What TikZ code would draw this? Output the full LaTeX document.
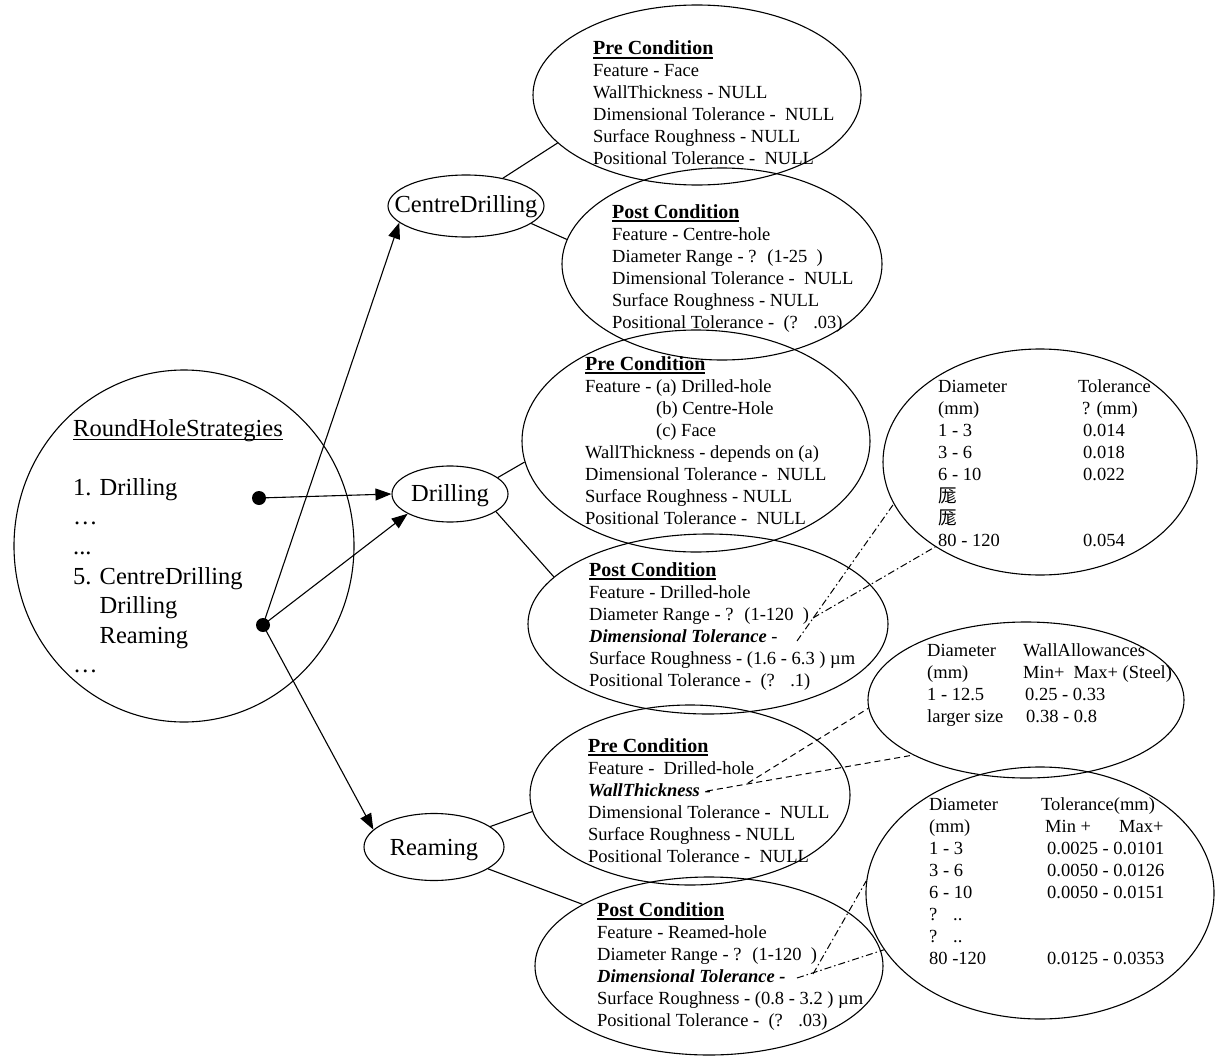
\documentclass[tikz,border=0pt]{standalone}
\usepackage{fontspec}
\setmainfont{Liberation Serif}
\newfontfamily\cjk{Noto Sans CJK SC}
\usetikzlibrary{shapes.geometric,arrows.meta}
\newcommand{\rowsblk}[1]{\begin{tabular}[t]{@{}l@{}}#1\end{tabular}}
\newcommand{\hdr}[1]{{\fontsize{20}{22}\selectfont\bfseries\setbox0\hbox{#1}\rlap{\rule[-4pt]{\wd0}{1.6pt}}\box0}}
\newcommand{\ulroot}[1]{{\setbox0\hbox{#1}\rlap{\rule[-3.8pt]{\wd0}{1.3pt}}\box0}}
\newcommand{\bi}[1]{\textbf{\textit{#1}}}
\begin{document}
\begin{tikzpicture}[x=1pt,y=-1pt,
  ell/.style={draw, ellipse, line width=1.1pt, inner sep=0pt},
  txt/.style={inner sep=0pt, anchor=base west, font=\fontsize{18.5}{22}\selectfont},
  big/.style={inner sep=0pt, anchor=base, font=\fontsize{24.5}{29.6}\selectfont},
  con/.style={line width=1.1pt},
  arr/.style={line width=1.1pt, -{Triangle[length=16pt,width=12pt]}},
  dsh/.style={line width=1pt, dash pattern=on 6pt off 4pt},
  dd/.style={line width=1pt, dash pattern=on 7pt off 3pt on 1.5pt off 3pt},
  dotn/.style={circle, fill, inner sep=0pt, minimum size=14pt}]
\useasboundingbox (0,0) rectangle (1216,1057);

% ellipses
\node[ell, minimum width=340pt, minimum height=352pt] (root) at (184,546) {};
\node[ell, minimum width=328pt, minimum height=180pt] (A) at (697,95) {};
\node[ell, minimum width=320pt, minimum height=192pt] (B) at (722,264) {};
\node[ell, minimum width=156pt, minimum height=62pt] (cd) at (466,206) {};
\node[ell, minimum width=348pt, minimum height=222pt] (C) at (696,441) {};
\node[ell, minimum width=116pt, minimum height=56pt] (drill) at (450,494) {};
\node[ell, minimum width=360pt, minimum height=180pt] (D) at (708,624) {};
\node[ell, minimum width=314pt, minimum height=226pt] (G) at (1040,462) {};
\node[ell, minimum width=316pt, minimum height=156pt] (H) at (1026,700) {};
\node[ell, minimum width=320pt, minimum height=180pt] (E) at (690,795) {};
\node[ell, minimum width=140pt, minimum height=67pt] (ream) at (434,847) {};
\node[ell, minimum width=348pt, minimum height=178pt] (F) at (709,966) {};
\node[ell, minimum width=348pt, minimum height=252pt] (I) at (1040,893) {};

% labels of the small ellipses
\node[big] (tcd) at (466,212) {CentreDrilling};
\node[big] (tdrill) at (450,501) {Drilling};
\node[big] (tream) at (434,855) {Reaming};

% root text
\node[big, anchor=base west] (troot) at (73,436) {\rowsblk{\ulroot{RoundHoleStrategies}\\ \\
1. Drilling\\ …\\ ...\\ 5. CentreDrilling\\ \phantom{5. }Drilling\\ \phantom{5. }Reaming\\ …}};

% condition texts
\node[txt] (tA) at (593,55) {\rowsblk{\hdr{Pre Condition}\\
Feature - Face\\
WallThickness - NULL\\
Dimensional Tolerance -~ NULL\\
Surface Roughness - NULL\\
Positional Tolerance -~ NULL}};

\node[txt] (tB) at (612,218) {\rowsblk{\hdr{Post Condition}\\
Feature - Centre-hole\\
Diameter Range - ?~ (1-25~ )\\
Dimensional Tolerance -~ NULL\\
Surface Roughness - NULL\\
Positional Tolerance -~ (?~~ .03)}};

\node[txt] (tC) at (585,370) {\rowsblk{\hdr{Pre Condition}\\
Feature - (a) Drilled-hole\\
\phantom{Feature - }(b) Centre-Hole\\
\phantom{Feature - }(c) Face\\
WallThickness - depends on (a)\\
Dimensional Tolerance -~ NULL\\
Surface Roughness - NULL\\
Positional Tolerance -~ NULL}};

\node[txt] (tD) at (589,576) {\rowsblk{\hdr{Post Condition}\\
Feature - Drilled-hole\\
Diameter Range - ?~ (1-120~ )\\
\bi{Dimensional Tolerance} -\\
Surface Roughness - (1.6 - 6.3 ) µm\\
Positional Tolerance -~ (?~~ .1)}};

\node[txt] (tE) at (588,752) {\rowsblk{\hdr{Pre Condition}\\
Feature -~ Drilled-hole\\
\bi{WallThickness} -\\
Dimensional Tolerance -~ NULL\\
Surface Roughness - NULL\\
Positional Tolerance -~ NULL}};

\node[txt] (tF) at (597,916) {\rowsblk{\hdr{Post Condition}\\
Feature - Reamed-hole\\
Diameter Range - ?~ (1-120~ )\\
\bi{Dimensional Tolerance -}\\
Surface Roughness - (0.8 - 3.2 ) µm\\
Positional Tolerance -~ (?~~ .03)}};

% tables
\node[txt] (g1) at (938,392) {\rowsblk{Diameter\\(mm)\\1 - 3\\3 - 6\\6 - 10\\{\cjk 厖}\\{\cjk 厖}\\80 - 120}};
\node[txt] (g2) at (1078,392) {\rowsblk{Tolerance\\\hspace{4pt}? (mm)\\\hspace{5pt}0.014\\\hspace{5pt}0.018\\\hspace{5pt}0.022\\ \\ \\\hspace{5pt}0.054}};

\node[txt] (h1) at (927,656) {\rowsblk{Diameter\\(mm)\\1 - 12.5\\larger size}};
\node[txt] (h2) at (1023,656) {\rowsblk{WallAllowances\\Min+~ Max+ (Steel)\\\hspace{2pt}0.25 - 0.33\\\hspace{3pt}0.38 - 0.8}};

\node[txt] (i1) at (929,810) {\rowsblk{Diameter\\(mm)\\1 - 3\\3 - 6\\6 - 10\\\makebox[24pt][l]{?}..\\\makebox[24pt][l]{?}..\\80 -120}};
\node[txt] (i2) at (1041,810) {\rowsblk{Tolerance(mm)\\\hspace{4pt}\makebox[74pt][l]{Min +}Max+\\\hspace{6pt}0.0025 - 0.0101\\\hspace{6pt}0.0050 - 0.0126\\\hspace{6pt}0.0050 - 0.0151\\ \\ \\\hspace{6pt}0.0125 - 0.0353}};

% connectors between operation and conditions
\draw[con] (cd.37.7) -- (A.199.5);
\draw[con] (cd.-15) -- (B.171.9);
\draw[con] (drill.19.5) -- (C.187.7);
\draw[con] (drill.-21.8) -- (D.163.1);
\draw[con] (ream.20.6) -- (E.186.5);
\draw[con] (ream.-22.5) -- (F.154.5);

% dots and arrows
\node[dotn] (d1) at (259,498) {};
\node[dotn] (d2) at (263,625) {};
\draw[arr] (d1.center) -- (drill.west);
\draw[arr] (d2.center) -- (cd.194.6);
\draw[arr] (d2.center) -- (drill.205);
\draw[arr] (d2.center) -- (ream.164);

% dashed references
\coordinate (wt1) at (707,791);
\coordinate (wt2) at (748,783);
\draw[dsh] (wt1) -- (H.206.8);
\draw[dsh] (wt2) -- (H.183);

\coordinate (dt1) at (797,641);
\coordinate (dr1) at (813,618);
\draw[dd] (dt1) -- (G.196.8);
\draw[dd] (dr1) -- (G.219.2);

\coordinate (ft1) at (797,978);
\coordinate (ft2) at (813,974);
\draw[dd] (ft2) -- (I.176.7);
\draw[dd] (ft1) -- (I.200.8);
\end{tikzpicture}
\end{document}
